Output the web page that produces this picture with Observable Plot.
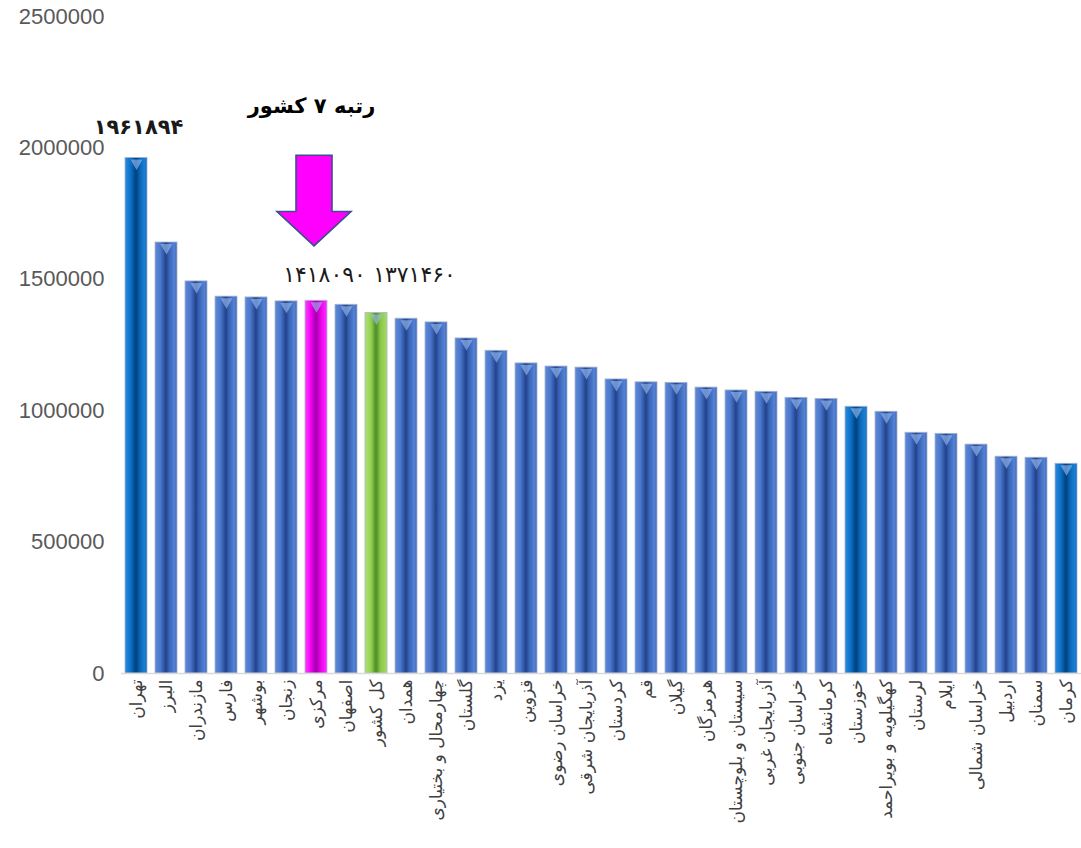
<!DOCTYPE html>
<html><head><meta charset="utf-8">
<script src="https://cdn.jsdelivr.net/npm/d3@7"></script>
<script src="https://cdn.jsdelivr.net/npm/@observablehq/plot@0.6"></script>
<style>body{margin:0;background:#fff} #chart svg{display:block}</style>
</head><body><div id="chart"></div>
<script>
const provinces = ["تهران","البرز","مازندران","فارس","بوشهر","زنجان","مرکزی","اصفهان","کل کشور","همدان","چهارمحال و بختیاری","گلستان","یزد","قزوین","خراسان رضوی","آذربایجان شرقی","کردستان","قم","گیلان","هرمزگان","سیستان و بلوچستان","آذربایجان غربی","خراسان جنوبی","کرمانشاه","خوزستان","کهگیلویه و بویراحمد","لرستان","ایلام","خراسان شمالی","اردبیل","سمنان","کرمان"];
const values = [1961894,1640000,1492000,1434000,1431000,1416000,1418090,1403000,1371460,1350000,1336000,1275000,1228000,1180000,1168000,1164000,1119000,1108000,1106000,1088000,1077000,1072000,1049000,1045000,1015000,996000,916000,912000,871000,825000,821000,798000];
const yTicks = [0,500000,1000000,1500000,2000000,2500000];
const labelNames = ["تهران","مرکزی","کل کشور"];
const labelTexts = ["۱۹۶۱۸۹۴","۱۴۱۸۰۹۰","۱۳۷۱۴۶۰"];
const highlightName = "مرکزی";
const nationalName = "کل کشور";
const strongBlueNames = ["تهران","خوزستان","کرمان"];
const titleText = "رتبه ۷ کشور";
const arrowValues = {top: 1970000, head: 1756000, tip: 1625000};
const titleValue = 2160000;

const data = provinces.map((name, i) => ({name, value: values[i]}));
const labels = labelNames.map((name, i) => ({name, text: labelTexts[i], value: values[provinces.indexOf(name)]}));

const fillOf = d => d.name === highlightName ? "url(#g-pink)"
  : d.name === nationalName ? "url(#g-green)"
  : strongBlueNames.includes(d.name) ? "url(#g-strong)" : "url(#g-blue)";

const arrowMark = (index, scales, vals, dims) => {
  const sx = scales.x, sy = scales.y;
  const bw = typeof sx.bandwidth === "function" ? sx.bandwidth() : (sx.bandwidth || 0);
  const cx = sx(highlightName) + bw / 2 - 2;
  const yT = sy(arrowValues.top), yH = sy(arrowValues.head), yP = sy(arrowValues.tip);
  const s = 18, h = 37;
  const pts = [[cx-s,yT],[cx+s,yT],[cx+s,yH],[cx+h,yH],[cx,yP],[cx-h,yH],[cx-s,yH]];
  const g = d3.create("svg:path")
    .attr("d", "M" + pts.map(p => p.join(",")).join("L") + "Z")
    .attr("fill", "#ff00ff").attr("stroke", "#3a4f8c").attr("stroke-width", 1.6);
  return g.node();
};

const svg = Plot.plot({
  width: 1081, height: 848,
  marginTop: 16, marginBottom: 175, marginLeft: 121, marginRight: 0,
  style: {fontFamily: "'Liberation Sans', Arial, sans-serif", background: "#fff"},
  x: {domain: provinces, paddingInner: 0.28, paddingOuter: 0.14, label: null},
  y: {domain: [0, 2500000], label: null},
  marks: [
    Plot.axisY({ticks: yTicks, tickSize: 0, tickPadding: 17, tickFormat: d3.format("d"), fontSize: 22, fill: "#595959", label: null}),
    Plot.axisX({tickSize: 0, tickPadding: 0, tickRotate: -90, textAnchor: "end", lineAnchor: "middle", dy: 6, fontSize: 17, fill: "#404040", fontFamily: "'DejaVu Sans', sans-serif", label: null}),
    Plot.barY(data, {x: "name", y: "value", fill: fillOf, stroke: "#aab4cc", strokeWidth: 0.8}),
    Plot.dot(data, {x: "name", y: "value", symbol: "triangle", rotate: 180, r: 4.5, dy: 5, fill: "#9cc0f2", fillOpacity: 0.6}),
    Plot.ruleY([0], {stroke: "#d9d9d9", strokeWidth: 1.5}),
    Plot.text(labels.filter(d => d.name === "تهران"), {x: "name", y: "value", text: "text", dy: -31, dx: 2, fontSize: 21, fontWeight: "bold", fontFamily: "'DejaVu Sans', sans-serif", fill: "#1a1a1a"}),
    Plot.text(labels.filter(d => d.name === highlightName), {x: "name", y: "value", text: "text", dy: -26, dx: 8, fontSize: 22, fontFamily: "'DejaVu Sans', sans-serif", fill: "#1a1a1a"}),
    Plot.text(labels.filter(d => d.name === nationalName), {x: "name", y: "value", text: "text", dy: -38, dx: 38, fontSize: 22, fontFamily: "'DejaVu Sans', sans-serif", fill: "#1a1a1a"}),
    arrowMark,
    Plot.text([titleText], {x: () => highlightName, y: () => titleValue, text: d => d, dx: -5, fontSize: 21, fontWeight: "bold", fontFamily: "'DejaVu Sans', sans-serif", fill: "#000"})
  ]
});

const defs = d3.select(svg).insert("defs", ":first-child");
function grad(id, stops) {
  const g = defs.append("linearGradient").attr("id", id).attr("x1", 0).attr("x2", 1).attr("y1", 0).attr("y2", 0);
  stops.forEach(([o, c]) => g.append("stop").attr("offset", o).attr("stop-color", c));
}
grad("g-blue", [[0,"#5f8ad8"],[0.25,"#4a76cc"],[0.5,"#22428a"],[0.62,"#3660b2"],[0.88,"#5482d4"],[1,"#3c66b8"]]);
grad("g-strong", [[0,"#2a8ae0"],[0.28,"#0a6ec4"],[0.5,"#003f7c"],[0.68,"#0a66b6"],[0.9,"#1c80d6"],[1,"#0a64b4"]]);
grad("g-pink", [[0,"#ff40ff"],[0.28,"#f000f0"],[0.5,"#a000a8"],[0.7,"#e800e8"],[1,"#ff30ff"]]);
grad("g-green", [[0,"#b0e470"],[0.28,"#92d050"],[0.5,"#4e8a28"],[0.7,"#88c848"],[1,"#a8dc60"]]);

document.getElementById("chart").appendChild(svg);
</script>
</body></html>
